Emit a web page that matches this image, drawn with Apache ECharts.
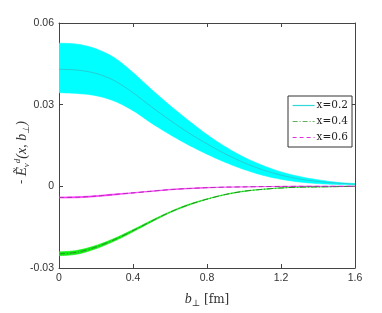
<!DOCTYPE html>
<html><head><meta charset="utf-8">
<script src="https://cdn.jsdelivr.net/npm/echarts@6/dist/echarts.min.js"></script>
<style>html,body{margin:0;padding:0;background:#fff}#c{width:382px;height:313px}</style>
</head><body><div id="c"></div>
<script>
var bPerp = [0,0.1,0.2,0.3,0.4,0.5,0.6,0.7,0.8,0.9,1.0,1.1,1.2,1.3,1.4,1.5,1.6];
var xTicks = ['0','0.4','0.8','1.2','1.6'];
var yTicks = ['-0.03','0','0.03','0.06'];
var legendNames = ['x=0.2','x=0.4','x=0.6'];
// x = 0.2
var cyanUpper  = [0.0526,0.0522,0.0505,0.0472,0.0418,0.0356,0.0297,0.0242,0.0190,0.0145,0.0107,0.0077,0.0053,0.0036,0.0024,0.0015,0.0010];
var cyanCenter = [0.0430,0.0427,0.0415,0.0388,0.0344,0.0292,0.0243,0.0197,0.0156,0.0119,0.0087,0.0061,0.0041,0.0027,0.0018,0.0012,0.0008];
var cyanLower  = [0.0344,0.0341,0.0333,0.0313,0.0278,0.0232,0.0190,0.0152,0.0118,0.0088,0.0062,0.0041,0.0026,0.0016,0.0010,0.0007,0.0006];
// x = 0.4
var greenCenter = [-0.0248,-0.0242,-0.0223,-0.0196,-0.0163,-0.0128,-0.0095,-0.0068,-0.0047,-0.0030,-0.0018,-0.0011,-0.0006,-0.0003,-0.0002,-0.0001,0];
var greenLower  = [-0.0255,-0.0249,-0.0229,-0.0201,-0.0167,-0.0131,-0.0097,-0.0070,-0.0048,-0.0031,-0.0019,-0.0011,-0.0006,-0.0003,-0.0002,-0.0001,0];
var greenUpper  = [-0.0241,-0.0235,-0.0217,-0.0191,-0.0159,-0.0125,-0.0093,-0.0066,-0.0046,-0.0029,-0.0017,-0.0011,-0.0006,-0.0003,-0.0002,-0.0001,0];
// x = 0.6
var magentaCenter = [-0.0041,-0.0040,-0.0036,-0.0030,-0.0024,-0.0018,-0.0012,-0.0008,-0.0005,-0.0003,-0.0002,-0.0001,-0.00005,0,0,0,0];
var magentaLower  = [-0.0043,-0.0042,-0.0038,-0.0032,-0.0025,-0.0019,-0.0013,-0.0009,-0.0006,-0.0003,-0.0002,-0.0001,-0.0001,0,0,0,0];
var magentaUpper  = [-0.0039,-0.0038,-0.0034,-0.0028,-0.0023,-0.0017,-0.0011,-0.0007,-0.0004,-0.0003,-0.0002,-0.0001,0,0,0,0,0];

function pairs(arr){ return bPerp.map(function(b,i){ return [b, arr[i]]; }); }

// smooth pixel-space rendering (Catmull-Rom) of a list of already-projected points
function smoothPixels(p){
  var out = [p[0]];
  for (var i=0;i<p.length-1;i++){
    var p0 = p[Math.max(i-1,0)], p1 = p[i], p2 = p[i+1], p3 = p[Math.min(i+2,p.length-1)];
    var c1 = [p1[0]+(p2[0]-p0[0])/6, p1[1]+(p2[1]-p0[1])/6];
    var c2 = [p2[0]-(p3[0]-p1[0])/6, p2[1]-(p3[1]-p1[1])/6];
    for (var k=1;k<=8;k++){
      var t=k/8, u=1-t;
      out.push([
        u*u*u*p1[0]+3*u*u*t*c1[0]+3*u*t*t*c2[0]+t*t*t*p2[0],
        u*u*u*p1[1]+3*u*u*t*c1[1]+3*u*t*t*c2[1]+t*t*t*p2[1]
      ]);
    }
  }
  return out;
}

// band drawn as polygon between lower and upper curves, positioned through the axes
function band(id, lo, up, color){
  return {
    name:id, type:'custom', data:[0], silent:true, z:1, clip:true,
    renderItem:function(params, api){
      var u = [], l = [];
      for (var i=0;i<bPerp.length;i++){ u.push(api.coord([bPerp[i], up[i]])); l.push(api.coord([bPerp[i], lo[i]])); }
      var pts = smoothPixels(u).concat(smoothPixels(l).reverse());
      return {type:'polygon', shape:{points:pts}, style:{fill:color, stroke:color, lineWidth:0.6}};
    }
  };
}

var axisLine = {show:true, onZero:false, lineStyle:{color:'#444', width:1}};
var tick = {inside:true, length:4, lineStyle:{color:'#444'}};
var labelStyle = {color:'#333', fontFamily:'Liberation Sans, Arial, sans-serif', fontSize:10.5};

var series = [
  band('cb', cyanLower, cyanUpper, '#00ffff'),
  {name:legendNames[0], type:'line', data:pairs(cyanCenter), smooth:0.3, symbol:'none',
    lineStyle:{color:'#30c0c8', width:0.8}, itemStyle:{color:'#40e0e0'}, z:3},
  band('gb', greenLower, greenUpper, '#10f010'),
  {name:legendNames[1], type:'line', data:pairs(greenCenter), smooth:0.3, symbol:'none',
    lineStyle:{color:'#2e8b2e', width:1, type:[6,2,1,2]}, itemStyle:{color:'#80c080'}, z:3},
  band('mb', magentaLower, magentaUpper, '#ff30ff'),
  {name:legendNames[2], type:'line', data:pairs(magentaCenter), smooth:0.3, symbol:'none',
    lineStyle:{color:'#b030b0', width:1, type:[5,3]}, itemStyle:{color:'#e040e0'}, z:3}
];

var chart = echarts.init(document.getElementById('c'), null, {renderer:'canvas'});
chart.setOption({
  animation:false,
  backgroundColor:'#fff',
  grid:{left:59, right:27, top:23, bottom:36, containLabel:false},
  legend:{
    data:[
      {name:legendNames[0], itemStyle:{color:'rgba(0,0,0,0)', borderWidth:0}, lineStyle:{color:'#30d8d8', type:'solid', width:1.2}},
      {name:legendNames[1], itemStyle:{color:'rgba(0,0,0,0)', borderWidth:0}, lineStyle:{color:'#60b060', type:[5,2,1,2], width:1.2}},
      {name:legendNames[2], itemStyle:{color:'rgba(0,0,0,0)', borderWidth:0}, lineStyle:{color:'#e030e0', type:[4,3], width:1.2}}
    ],
    orient:'vertical', left:288, top:96, itemWidth:22, itemHeight:8, itemGap:5,
    padding:[4,4,4,4], backgroundColor:'#fff', borderColor:'#333', borderWidth:1, borderRadius:0,
    textStyle:{fontFamily:'DejaVu Serif, Liberation Serif, serif', fontSize:10.5, color:'#222', padding:[0,0,0,-3]}
  },
  xAxis:[
    {type:'value', min:0, max:1.6, interval:0.4, position:'bottom',
     axisLine:axisLine, axisTick:tick, splitLine:{show:false},
     axisLabel:Object.assign({margin:5, formatter:function(v){ return xTicks[Math.round(v/0.4)]; }}, labelStyle),
     name:'{it|b}{sub|⊥} [fm]', nameLocation:'middle', nameGap:23,
     nameTextStyle:{fontFamily:'DejaVu Serif, Liberation Serif, serif', fontSize:12, color:'#333',
       rich:{it:{fontStyle:'italic', fontFamily:'Liberation Serif, serif', fontSize:14, color:'#333'},
             sub:{fontSize:9, color:'#333', padding:[8,0,0,0]}}}},
    {type:'value', min:0, max:1.6, interval:0.4, position:'top',
     axisLine:axisLine, axisTick:tick, axisLabel:{show:false}, splitLine:{show:false}}
  ],
  yAxis:[
    {type:'value', min:-0.03, max:0.06, interval:0.03, position:'left',
     axisLine:axisLine, axisTick:tick, splitLine:{show:false},
     axisLabel:Object.assign({margin:5, formatter:function(v){ return yTicks[Math.round((v+0.03)/0.03)]; }}, labelStyle),
     name:'- {e|Ẽ}{sub|v}{sup|d}{n|(x, b}{sub|⊥}{n|)}', nameLocation:'middle', nameGap:28, nameRotate:90,
     nameMoveOverlap:false,
     nameTextStyle:{fontFamily:'Liberation Serif, serif', fontSize:13, color:'#333', padding:[0,14,0,0],
       rich:{e:{fontStyle:'italic', fontFamily:'Liberation Serif, serif', fontSize:15, color:'#333'},
             n:{fontStyle:'italic', fontFamily:'Liberation Serif, serif', fontSize:14, color:'#333'},
             sub:{fontStyle:'italic', fontFamily:'Liberation Serif, serif', fontSize:9, color:'#333', padding:[9,0,0,0]},
             sup:{fontStyle:'italic', fontFamily:'Liberation Serif, serif', fontSize:9, color:'#333', padding:[0,0,9,0]}}}},
    {type:'value', min:-0.03, max:0.06, interval:0.03, position:'right',
     axisLine:axisLine, axisTick:tick, axisLabel:{show:false}, splitLine:{show:false}}
  ],
  series:series
});
</script></body></html>
